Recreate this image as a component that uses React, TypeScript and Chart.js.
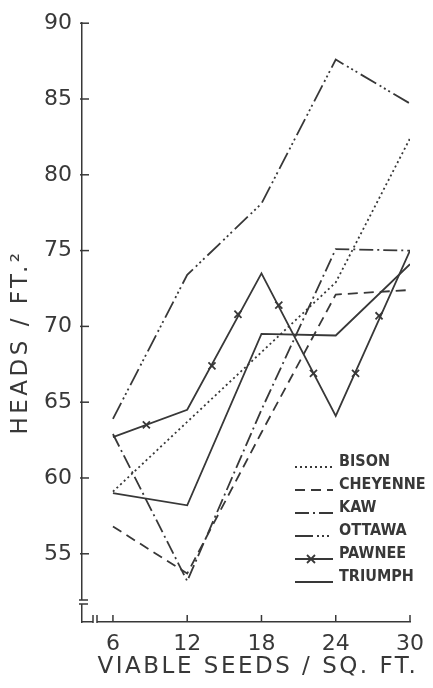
import React, { useEffect, useRef } from "react";
import { Chart, registerables } from "chart.js";

Chart.register(...registerables);

// ---- data ----
const seeds = [6, 12, 18, 24, 30];
const bison = [59.1, 63.7, 68.3, 72.9, 82.4];
const cheyenne = [56.8, 53.7, 63.0, 72.1, 72.4];
const kaw = [62.9, 53.2, 64.5, 75.1, 75.0];
const ottawa = [63.9, 73.4, 78.1, 87.6, 84.7];
const pawnee = [62.7, 64.5, 73.5, 64.1, 75.0];
const triumph = [59.0, 58.2, 69.5, 69.4, 74.1];
// positions of the "x" marks drawn along the Pawnee line
const pawneeMarkX = [8.7, 14.0, 16.1, 19.4, 22.2, 25.6, 27.5];
const pawneeMarkY = [63.5, 67.4, 70.8, 71.4, 66.9, 66.9, 70.7];

const yTicks = [55, 60, 65, 70, 75, 80, 85, 90];
const xTicks = [6, 12, 18, 24, 30];
const seriesNames = ["BISON", "CHEYENNE", "KAW", "OTTAWA", "PAWNEE", "TRIUMPH"];
const xTitle = "VIABLE SEEDS / SQ. FT.";
const yTitle = "HEADS / FT.²";

const INK = "#383838";
const LW = 1.8;
const dashes: number[][] = [
  [2, 3],
  [10, 6],
  [14, 4, 2, 4],
  [18, 4, 2, 3, 2, 3, 2, 4],
  [],
  [],
];

const toPts = (ys: number[]) => seeds.map((s, i) => ({ x: s, y: ys[i] }));

const decorPlugin = {
  id: "decor",
  afterDraw(chart: any) {
    const { ctx, chartArea, scales } = chart;
    const { left, bottom } = chartArea;
    const x = scales.x;
    const y = scales.y;
    ctx.save();
    ctx.strokeStyle = INK;
    ctx.lineWidth = 1.5;
    ctx.setLineDash([]);
    // inner tick marks
    yTicks.forEach((v) => {
      const py = y.getPixelForValue(v);
      ctx.beginPath();
      ctx.moveTo(left - 2, py);
      ctx.lineTo(left + 7, py);
      ctx.stroke();
    });
    xTicks.forEach((v) => {
      const px = x.getPixelForValue(v);
      ctx.beginPath();
      ctx.moveTo(px, bottom);
      ctx.lineTo(px, bottom - 7);
      ctx.stroke();
    });
    // axis breaks
    ctx.fillStyle = "#fff";
    ctx.fillRect(left - 3, bottom - 22, 6, 4);
    ctx.fillRect(left + 11, bottom - 3, 4, 6);
    ctx.beginPath();
    ctx.moveTo(left - 3, bottom - 22);
    ctx.lineTo(left + 6, bottom - 22);
    ctx.moveTo(left - 3, bottom - 18);
    ctx.lineTo(left + 6, bottom - 18);
    ctx.moveTo(left + 11, bottom + 1);
    ctx.lineTo(left + 11, bottom - 7);
    ctx.moveTo(left + 15, bottom + 1);
    ctx.lineTo(left + 15, bottom - 7);
    ctx.stroke();

    // axis titles
    ctx.fillStyle = INK;
    ctx.font = '23px "DejaVu Sans"';
    (ctx as any).letterSpacing = "2.5px";
    ctx.textAlign = "center";
    ctx.textBaseline = "middle";
    ctx.fillText(xTitle, 258, 667);
    ctx.save();
    ctx.translate(21, 342);
    ctx.rotate(-Math.PI / 2);
    (ctx as any).letterSpacing = "3.5px";
    ctx.fillText(yTitle, 0, 0);
    ctx.restore();

    // legend
    (ctx as any).letterSpacing = "0px";
    ctx.font = 'bold 16px "DejaVu Sans Condensed"';
    ctx.textAlign = "left";
    ctx.textBaseline = "middle";
    const lx0 = 295;
    const lx1 = 333;
    seriesNames.forEach((name, i) => {
      const cy = 462 + i * 23;
      ctx.fillStyle = INK;
      ctx.fillText(name, 339, cy);
      ctx.setLineDash(dashes[i]);
      ctx.lineWidth = LW;
      ctx.beginPath();
      ctx.moveTo(lx0, cy + 5);
      ctx.lineTo(lx1, cy + 5);
      ctx.stroke();
      ctx.setLineDash([]);
      if (name === "PAWNEE") {
        const mx = (lx0 + lx1) / 2 - 3;
        const my = cy + 5;
        ctx.beginPath();
        ctx.moveTo(mx - 4, my - 4);
        ctx.lineTo(mx + 4, my + 4);
        ctx.moveTo(mx + 4, my - 4);
        ctx.lineTo(mx - 4, my + 4);
        ctx.stroke();
      }
    });
    ctx.restore();
  },
};

export default function App() {
  const ref = useRef<HTMLCanvasElement | null>(null);
  useEffect(() => {
    if (!ref.current) return;
    const all = [bison, cheyenne, kaw, ottawa, pawnee, triumph];
    const datasets: any[] = all.map((ys, i) => ({
      label: seriesNames[i],
      data: toPts(ys),
      borderColor: INK,
      borderWidth: LW,
      borderDash: dashes[i],
      pointRadius: 0,
      fill: false,
      tension: 0,
    }));
    datasets.push({
      label: "PAWNEE marks",
      data: pawneeMarkX.map((v, i) => ({ x: v, y: pawneeMarkY[i] })),
      showLine: false,
      pointStyle: "crossRot",
      pointRadius: 5,
      pointBorderWidth: LW,
      pointBorderColor: INK,
      borderColor: INK,
    });
    const chart = new Chart(ref.current, {
      type: "line",
      data: { datasets },
      plugins: [decorPlugin],
      options: {
        animation: false,
        responsive: false,
        events: [],
        layout: { padding: { top: 21, right: 19, left: 0, bottom: 0 } },
        plugins: { legend: { display: false }, tooltip: { enabled: false } },
        scales: {
          x: {
            type: "linear",
            min: 3.5,
            max: 30,
            afterFit: (s: any) => {
              s.height = 66;
            },
            afterBuildTicks: (s: any) => {
              s.ticks = xTicks.map((v) => ({ value: v }));
            },
            grid: { display: false, drawTicks: false },
            border: { display: true, color: INK, width: 1.5 },
            ticks: {
              color: INK,
              font: { family: "DejaVu Sans", size: 22 },
              padding: 9,
              maxRotation: 0,
              autoSkip: false,
            },
          },
          y: {
            type: "linear",
            min: 50.5,
            max: 90,
            afterFit: (s: any) => {
              s.width = 82;
            },
            afterBuildTicks: (s: any) => {
              s.ticks = yTicks.map((v) => ({ value: v }));
            },
            grid: { display: false, drawTicks: false },
            border: { display: true, color: INK, width: 1.5 },
            ticks: {
              color: INK,
              font: { family: "DejaVu Sans", size: 22 },
              padding: 10,
              autoSkip: false,
            },
          },
        },
      },
    });
    return () => chart.destroy();
  }, []);
  return (
    <div style={{ position: "fixed", left: 0, top: 0, width: 433, height: 688, background: "#fff" }}>
      <canvas ref={ref} width={433} height={688} />
    </div>
  );
}
